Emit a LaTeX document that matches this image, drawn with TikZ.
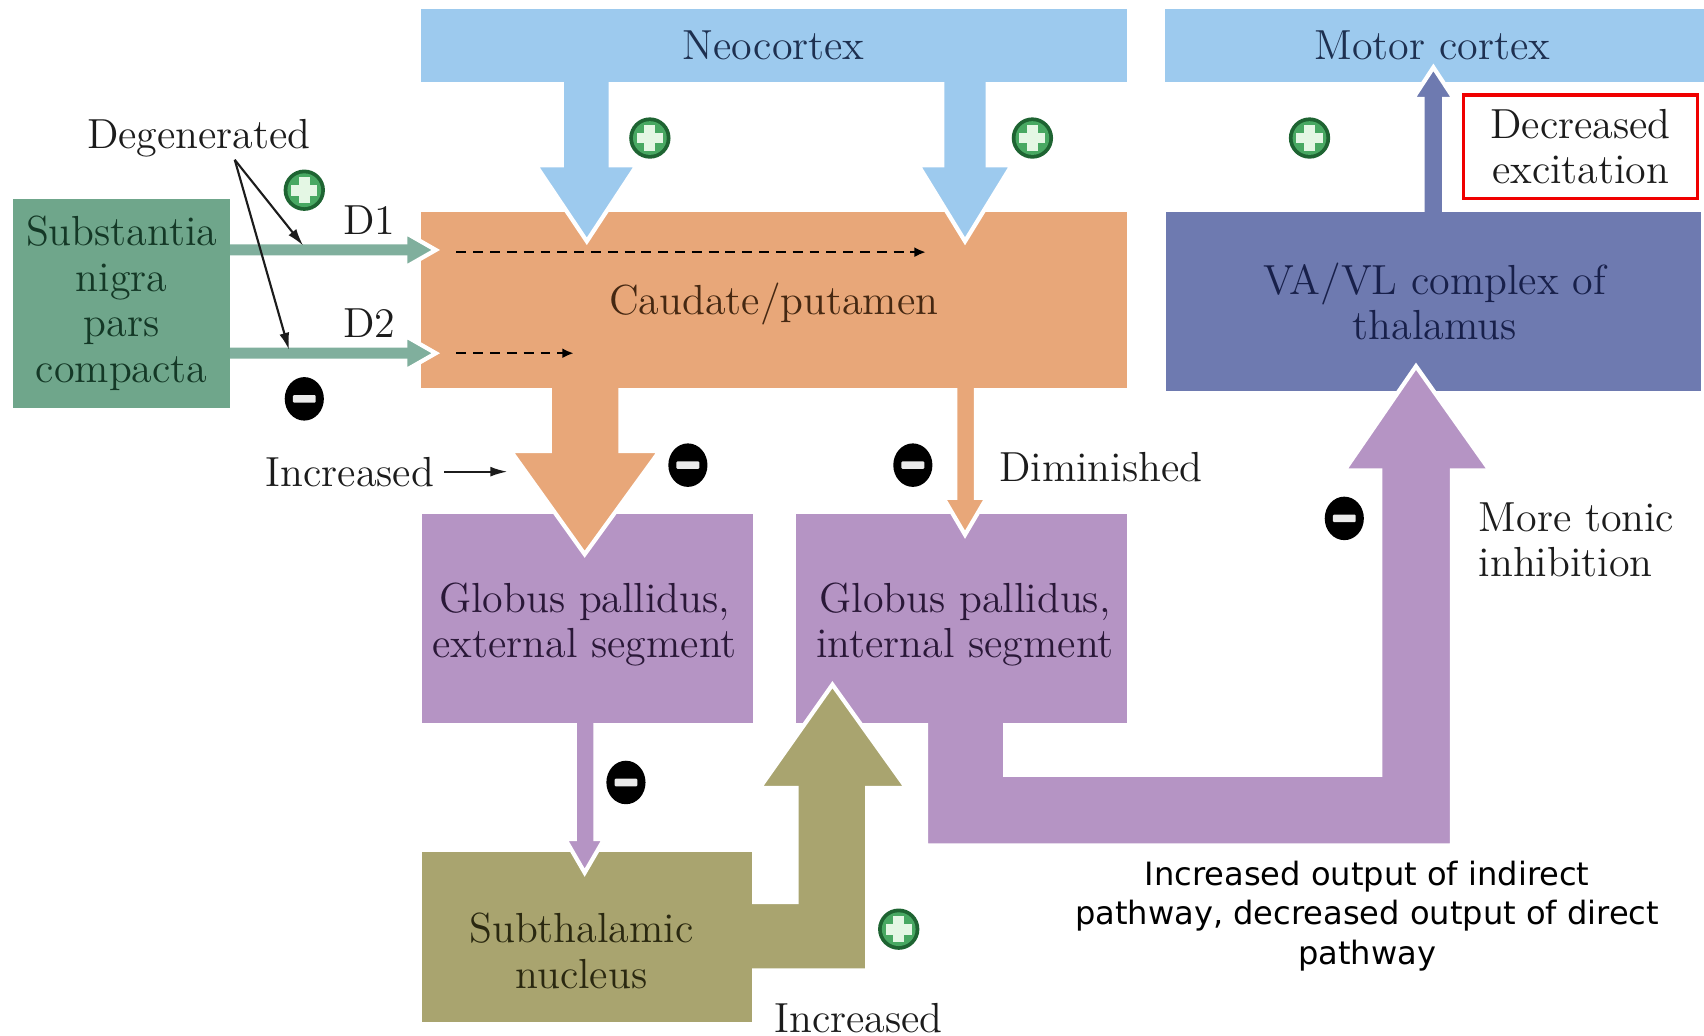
\documentclass[tikz,border=0pt]{standalone}
\usepackage{fontspec}
\newfontfamily\versans{DejaVu Sans}
\usetikzlibrary{arrows.meta}
\definecolor{neoblue}{HTML}{9DCAEE}
\definecolor{caudorange}{HTML}{E8A779}
\definecolor{gppurple}{HTML}{B594C4}
\definecolor{thalblue}{HTML}{6E7AB0}
\definecolor{sngreen}{HTML}{6FA68B}
\definecolor{snarrow}{HTML}{80AF9D}
\definecolor{stnolive}{HTML}{A9A46F}
\definecolor{plusdark}{HTML}{1E6432}
\definecolor{plusmid}{HTML}{48A862}
\definecolor{pluslight}{HTML}{E4F7E4}
\definecolor{labtxt}{HTML}{1C1C1C}
\definecolor{neotxt}{HTML}{1E3050}
\definecolor{caudtxt}{HTML}{452812}
\definecolor{gptxt}{HTML}{2A1838}
\definecolor{thaltxt}{HTML}{18204A}
\definecolor{stntxt}{HTML}{2A2810}
\definecolor{sntxt}{HTML}{143826}
\definecolor{redbox}{HTML}{F00000}
\tikzset{
  pluspic/.pic={
    \fill[plusdark] (0,0) circle[radius=0.19cm];
    \fill[plusmid] (0,0) circle[radius=0.155cm];
    \fill[pluslight] (-0.05cm,-0.12cm) rectangle (0.05cm,0.12cm);
    \fill[pluslight] (-0.12cm,-0.05cm) rectangle (0.12cm,0.05cm);
  },
  minuspic/.pic={
    \fill[black] (0,0) ellipse[x radius=0.18cm, y radius=0.2cm];
    \fill[black!8, rounded corners=0.01cm] (-0.105cm,-0.035cm) rectangle (0.105cm,0.035cm);
  }
}
\begin{document}
\begin{tikzpicture}[x=0.01cm, y=-0.01cm,
  serif/.style={font=\fontsize{11}{11.8}\selectfont, inner sep=0pt, align=center},
  lbl/.style={serif, text=labtxt},
  region/.style={inner sep=0pt, outer sep=0pt, draw=none},
  blk/.style={draw=white, line width=1.1pt, line join=miter},
  thinarrow/.style={draw=labtxt, line width=0.55pt, -{Latex[length=4.5pt,width=2.6pt]}},
  dasharrow/.style={draw=black, line width=0.6pt, dash pattern=on 2.6pt off 1.8pt, -{Latex[length=3pt,width=2.6pt]}}
]
\useasboundingbox (0,0) rectangle (1568,953);

% motor cortex
\node[region, fill=neoblue, minimum width=4.96cm, minimum height=0.67cm] (motor) at (1320,41.5) {};
\node[serif, text=neotxt] (motortxt) at (1318,42) {Motor cortex};
% thalamus -> motor cortex
\filldraw[blk, fill=thalblue] (1309,205) -- (1309,91) -- (1300,91) -- (1319,62) -- (1338,91) -- (1329,91) -- (1329,205) -- cycle;
% thalamus
\node[region, fill=thalblue, minimum width=4.92cm, minimum height=1.65cm] (thal) at (1319,277.5) {};
\node[serif, text=thaltxt] (thaltxt) at (1320,277) {VA/VL complex of\\thalamus};
% GPi -> thalamus
\filldraw[blk, fill=gppurple] (852,650) -- (852,778) -- (1336,778) -- (1336,433) -- (1371,433) -- (1303,337) -- (1237,433) -- (1270,433) -- (1270,713) -- (925,713) -- (925,650) -- cycle;
% GPi
\node[region, fill=gppurple, minimum width=3.04cm, minimum height=1.92cm] (gpi) at (885,569) {};
\node[serif, text=gptxt] (gpitxt) at (888,575) {Globus pallidus,\\internal segment};
% STN -> GPi
\filldraw[blk, fill=stnolive] (680,830) -- (733,830) -- (733,725) -- (699,725) -- (766,630) -- (834,725) -- (798,725) -- (798,893) -- (680,893) -- cycle;
% STN
\node[region, fill=stnolive, minimum width=3.04cm, minimum height=1.56cm] (stn) at (540,862) {};
\node[serif, text=stntxt] (stntxt) at (535,875) {Subthalamic\\nucleus};
% GPe -> STN
\filldraw[blk, fill=gppurple] (529,650) -- (529,772) -- (520,772) -- (538,803) -- (556,772) -- (548,772) -- (548,650) -- cycle;
% GPe
\node[region, fill=gppurple, minimum width=3.05cm, minimum height=1.92cm] (gpe) at (540.5,569) {};
\node[serif, text=gptxt] (gpetxt) at (538,575) {Globus pallidus,\\external segment};
% caudate -> GPe, GPi
\filldraw[blk, fill=caudorange] (506,340) -- (506,415) -- (470,415) -- (538,510) -- (607,415) -- (571,415) -- (571,340) -- cycle;
\filldraw[blk, fill=caudorange] (879,340) -- (879,458) -- (868,458) -- (888,492) -- (908,458) -- (898,458) -- (898,340) -- cycle;
% caudate
\node[region, fill=caudorange, minimum width=6.49cm, minimum height=1.62cm] (caud) at (712.5,276) {};
\node[serif, text=caudtxt] (caudtxt) at (712,280) {Caudate/putamen};
% neocortex -> caudate
\filldraw[blk, fill=neoblue] (517,60) -- (517,152) -- (493,152) -- (540,222) -- (586,152) -- (562,152) -- (562,60) -- cycle;
\filldraw[blk, fill=neoblue] (867,60) -- (867,152) -- (845,152) -- (888,222) -- (931,152) -- (909,152) -- (909,60) -- cycle;
% neocortex
\node[region, fill=neoblue, minimum width=6.49cm, minimum height=0.67cm] (neo) at (712.5,41.5) {};
\node[serif, text=neotxt] (neotxt) at (712,42) {Neocortex};
% dashed arrows inside caudate
\coordinate (d1s) at (420,232); \coordinate (d1e) at (852,232);
\draw[dasharrow] (d1s) -- (d1e);
\coordinate (d2s) at (420,325); \coordinate (d2e) at (528,325);
\draw[dasharrow] (d2s) -- (d2e);
% SN -> caudate
\filldraw[blk, fill=snarrow] (200,223) -- (373,223) -- (373,214) -- (401,230) -- (373,246) -- (373,237) -- (200,237) -- cycle;
\filldraw[blk, fill=snarrow] (200,318) -- (373,318) -- (373,309) -- (401,325) -- (373,341) -- (373,332) -- (200,332) -- cycle;
% SN
\node[region, fill=sngreen, minimum width=2cm, minimum height=1.92cm] (sn) at (112,279) {};
\node[serif, font=\fontsize{11}{12}\selectfont, text=sntxt] (sntxt) at (112,279) {Substantia\\nigra\\pars\\compacta};

% labels
\node[lbl] (degen) at (183,127) {Degenerated};
\coordinate (degfoot) at (216,147);
\coordinate (degD1) at (279,226);
\coordinate (degD2) at (266,322);
\draw[thinarrow] (degfoot) -- (degD1);
\draw[thinarrow] (degfoot) -- (degD2);
\node[lbl] (d1lbl) at (340,203) {D1};
\node[lbl] (d2lbl) at (340,297) {D2};
\node[lbl] (incr1) at (322,434) {Increased};
\coordinate (incr1e) at (467,434);
\draw[thinarrow, shorten <=2.5pt] (incr1.east) -- (incr1e);
\node[lbl] (dimin) at (1013,430) {Diminished};
\node[lbl, align=left, anchor=west] (tonic) at (1360,497) {More tonic\\inhibition};
\node[lbl] (incr2) at (790,937) {Increased};
\node[lbl, draw=redbox, line width=0.9pt, minimum width=2.15cm, minimum height=0.95cm] (decr) at (1454.5,135) {Decreased\\excitation};
\node[font=\versans\fontsize{8.4}{10.24}\selectfont, align=center, inner sep=0pt, text=black] (note) at (1258,843) {Increased output of indirect\\pathway, decreased output of direct\\pathway};

% plus / minus signs
\pic at (280,175) {pluspic};
\pic at (598,127) {pluspic};
\pic at (950,127) {pluspic};
\pic at (1205,127) {pluspic};
\pic at (827,855) {pluspic};
\pic at (280,367) {minuspic};
\pic at (633,428) {minuspic};
\pic at (840,428) {minuspic};
\pic at (1237,477) {minuspic};
\pic at (576,720) {minuspic};
\end{tikzpicture}
\end{document}
